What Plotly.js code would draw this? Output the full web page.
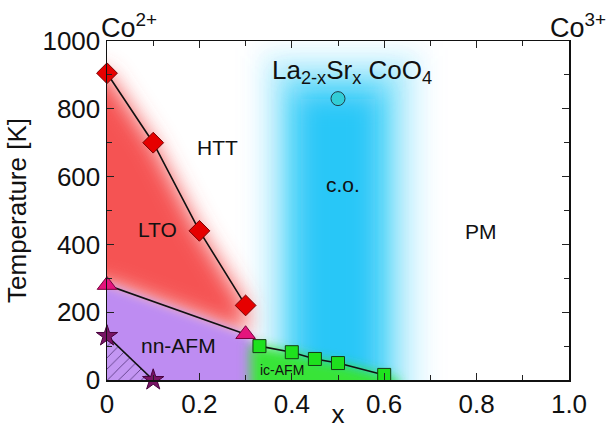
<!DOCTYPE html>
<html>
<head>
<meta charset="utf-8">
<script src="https://cdn.plot.ly/plotly-3.0.1.min.js"></script>
<style>
  html, body { margin: 0; padding: 0; background: #fff; }
  #chart { width: 611px; height: 429px; }
</style>
</head>
<body>
<div id="chart"></div>
<script>
// Phase boundaries of La(2-x)Sr(x)CoO4
const ltoX = [0, 0.1, 0.2, 0.3];            // HTT -> LTO transition
const ltoT = [905, 700, 440, 220];
const nnX = [0, 0.3];                        // nn-AFM ordering
const nnT = [280, 135];
const glassX = [0, 0.1];                     // spin-glass boundary
const glassT = [130, 0];
const icX = [0.33, 0.4, 0.45, 0.5, 0.6];     // ic-AFM ordering
const icT = [100, 82, 62, 50, 15];
const coX = [0.5];                           // charge order
const coT = [830];

// Extents of the shaded phase areas (run past the frame so the frame clips them)
const outL = -0.1, outB = -100;
// charge-order region, drawn as nested layers from the faint rim to the core
const coLayerLeft  = [0.325, 0.345, 0.365, 0.385, 0.405, 0.42];
const coLayerRight = [0.69, 0.665, 0.64, 0.615, 0.595, 0.58];
const coLayerTop   = [980, 950, 920, 890, 860, 830];
const coLayerAlpha = [0.08, 0.12, 0.17, 0.24, 0.34, 0.7];
const icBandX = [0.31, 0.63];

const xTickVals = [0, 0.2, 0.4, 0.6, 0.8, 1.0];
const xTickText = ['0', '0.2', '0.4', '0.6', '0.8', '1.0'];
const yTickVals = [0, 200, 400, 600, 800, 1000];

const font = 'Liberation Sans, Arial, sans-serif';

function area(x, y, color) {
  return { x, y, type: 'scatter', mode: 'lines', fill: 'toself', fillcolor: color,
           line: { width: 0 }, hoverinfo: 'skip', showlegend: false };
}

// shaded areas
const coLayers = coLayerLeft.map((l, i) => area(
  [l, coLayerRight[i], coLayerRight[i], l],
  [outB, outB, coLayerTop[i], coLayerTop[i]],
  'rgba(20,192,246,' + coLayerAlpha[i] + ')'));
const ltoArea = area(
  [outL].concat(ltoX, [nnX[1]], nnX.slice().reverse(), [outL]),
  [ltoT[0] + 25].concat(ltoT, [nnT[1]], nnT.slice().reverse(), [nnT[0] + 5]), 'rgb(245,82,82)');
const nnArea = area(
  [outL, outL].concat(nnX, [icX[0], icX[0]]),
  [outB, nnT[0] + 5].concat(nnT, [icT[0], outB]), 'rgb(190,140,242)');
const icArea = area(
  [icBandX[0], icBandX[0]].concat(icX, [icBandX[1], icBandX[1]]),
  [outB, icT[0] + 5].concat(icT, [0, outB]), 'rgb(55,228,55)');
const glassArea = {
  x: [glassX[0], glassX[0], glassX[1]], y: [glassT[1], glassT[0], glassT[1]],
  type: 'scatter', mode: 'lines', fill: 'toself', fillcolor: 'rgb(195,150,242)',
  fillpattern: { shape: '/', fgcolor: 'rgb(80,50,120)', bgcolor: 'rgb(195,150,242)', size: 8, solidity: 0.1 },
  line: { width: 0 }, hoverinfo: 'skip', showlegend: false
};

function boundary(x, y, symbol, size, fill, edge) {
  return { x, y, type: 'scatter', mode: 'lines+markers', cliponaxis: false,
           line: { color: '#111', width: 1.6 },
           marker: { symbol, size, color: fill, line: { color: edge, width: 1 } },
           hoverinfo: 'skip', showlegend: false };
}

const data = coLayers.concat([
  ltoArea, nnArea, icArea, glassArea,
  boundary(ltoX, ltoT, 'diamond', 16, 'rgb(230,0,0)', 'rgb(120,0,0)'),
  boundary(nnX, nnT, 'triangle-up', 17, 'rgb(228,20,125)', 'rgb(120,0,60)'),
  boundary(glassX, glassT, 'star', 16, 'rgb(120,20,100)', 'rgb(70,0,60)'),
  boundary(icX, icT, 'square', 13, 'rgb(30,225,30)', 'rgb(20,60,20)'),
  { x: coX, y: coT, type: 'scatter', mode: 'markers', cliponaxis: false,
    marker: { symbol: 'circle', size: 14, color: 'rgb(50,205,215)', line: { color: 'rgb(30,60,70)', width: 1 } },
    hoverinfo: 'skip', showlegend: false }
]);

function label(x, y, text, size) {
  return { x, y, xref: 'x', yref: 'y', text, showarrow: false,
           font: { family: font, size: size || 21, color: '#111' } };
}

const layout = {
  width: 611, height: 429,
  margin: { l: 107, r: 42, t: 41, b: 49 },
  paper_bgcolor: '#fff', plot_bgcolor: '#fff',
  showlegend: false,
  font: { family: font, color: '#111' },
  xaxis: {
    range: [0, 1], tickvals: xTickVals, ticktext: xTickText,
    ticks: 'inside', ticklen: 7, tickcolor: '#222', tickwidth: 1,
    minor: { dtick: 0.1, ticks: 'inside', ticklen: 5, tickcolor: '#222' },
    showline: true, linecolor: '#111', linewidth: 1.5, mirror: 'ticks',
    showgrid: false, zeroline: false,
    tickfont: { family: font, size: 26, color: '#111' },
    title: { text: 'x', font: { family: font, size: 26, color: '#111' }, standoff: 0 }
  },
  yaxis: {
    range: [0, 1000], tickvals: yTickVals,
    ticks: 'inside', ticklen: 7, tickcolor: '#222', tickwidth: 1,
    minor: { dtick: 100, ticks: 'inside', ticklen: 5, tickcolor: '#222' },
    showline: true, linecolor: '#111', linewidth: 1.5, mirror: 'ticks',
    showgrid: false, zeroline: false,
    tickfont: { family: font, size: 26, color: '#111' },
    title: { text: 'Temperature [K]', font: { family: font, size: 26, color: '#111' }, standoff: 8 }
  },
  annotations: [
    label(0.53, 910, 'La<sub>2-x</sub>Sr<sub>x</sub> CoO<sub>4</sub>', 26),
    label(0.24, 687, 'HTT'),
    label(0.11, 445, 'LTO'),
    label(0.51, 578, 'c.o.'),
    label(0.81, 437, 'PM'),
    label(0.155, 103, 'nn-AFM'),
    label(0.378, 30, 'ic-AFM', 14),
    { x: -0.018, y: 1.0, xref: 'paper', yref: 'paper', yanchor: 'bottom', xanchor: 'left', yshift: -4,
      text: 'Co<sup>2+</sup>', showarrow: false, font: { family: font, size: 27, color: '#111' } },
    { x: 0.955, y: 1.0, xref: 'paper', yref: 'paper', yanchor: 'bottom', xanchor: 'left', yshift: -4,
      text: 'Co<sup>3+</sup>', showarrow: false, font: { family: font, size: 27, color: '#111' } }
  ]
};

// soft edges for the shaded phase areas (trace index -> blur radius in px)
const nCo = coLayers.length;
const softness = {};
coLayers.forEach((_, i) => { softness[i] = 12; });
softness[nCo] = 11;      // LTO
softness[nCo + 1] = 5;   // nn-AFM
softness[nCo + 2] = 6;   // ic-AFM

function softenAreas(gd) {
  const svgNS = 'http://www.w3.org/2000/svg';
  const svg = gd.querySelector('.main-svg');
  let defs = svg.querySelector('defs');
  if (!defs) { defs = document.createElementNS(svgNS, 'defs'); svg.insertBefore(defs, svg.firstChild); }
  const traces = gd.querySelectorAll('.scatterlayer .trace');
  Object.keys(softness).forEach(i => {
    const f = document.createElementNS(svgNS, 'filter');
    f.setAttribute('id', 'soft' + i);
    f.setAttribute('filterUnits', 'userSpaceOnUse');
    f.setAttribute('x', '-2000'); f.setAttribute('y', '-2000');
    f.setAttribute('width', '5000'); f.setAttribute('height', '5000');
    const b = document.createElementNS(svgNS, 'feGaussianBlur');
    b.setAttribute('stdDeviation', softness[i]);
    f.appendChild(b);
    defs.appendChild(f);
    const path = traces[i] && traces[i].querySelector('path.js-fill');
    if (path) path.setAttribute('filter', 'url(#soft' + i + ')');
  });
}

Plotly.newPlot('chart', data, layout, { staticPlot: true, displayModeBar: false }).then(softenAreas);
</script>
</body>
</html>
